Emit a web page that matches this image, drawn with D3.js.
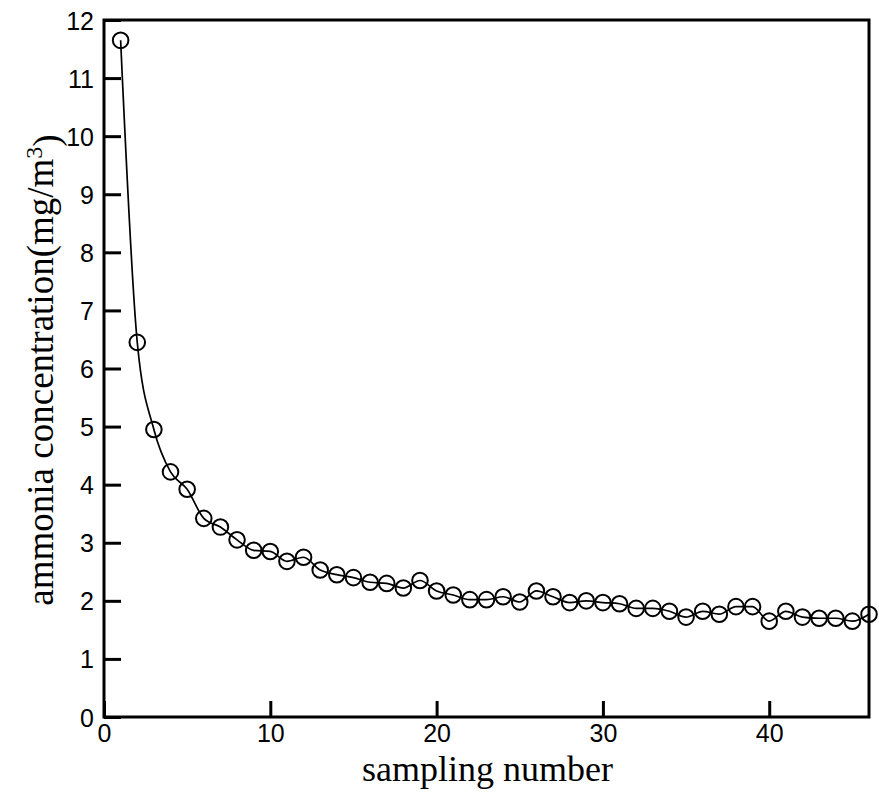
<!DOCTYPE html>
<html lang="en">
<head>
  <meta charset="utf-8" />
  <title>ammonia concentration</title>
  <script src="https://d3js.org/d3.v7.min.js"></script>
  <style>
    body { margin: 0; background: #fff; }
    .tick text { font-family: "Liberation Sans", Arial, sans-serif; font-size: 25px; fill: #000; }
    .title { font-family: "Liberation Serif", "Times New Roman", serif; font-size: 36px; fill: #000; }
  </style>
</head>
<body>
<svg id="chart" width="879" height="794"></svg>
<script>
// sampling number 1..46 and measured ammonia (mg/m3)
var samples = d3.range(1, 47);
var ammonia = [11.65, 6.45, 4.95, 4.22, 3.92, 3.42, 3.27, 3.05, 2.87, 2.85,
               2.68, 2.75, 2.53, 2.45, 2.40, 2.32, 2.30, 2.22, 2.35, 2.17,
               2.10, 2.02, 2.02, 2.07, 1.98, 2.17, 2.07, 1.97, 2.00, 1.97,
               1.95, 1.87, 1.87, 1.82, 1.72, 1.82, 1.77, 1.90, 1.90, 1.65,
               1.82, 1.72, 1.70, 1.70, 1.65, 1.77];
var xTicks = [0, 10, 20, 30, 40];
var yTicks = d3.range(0, 13);

var svg = d3.select("#chart");
var m = {left: 104, right: 869, top: 20, bottom: 717};

var x = d3.scaleLinear().domain([0, 46]).range([m.left, m.right]);
var y = d3.scaleLinear().domain([0, 12]).range([m.bottom, m.top]);

var data = samples.map(function(s, i) { return {x: s, y: ammonia[i]}; });

// frame
svg.append("rect")
  .attr("x", m.left).attr("y", m.top)
  .attr("width", m.right - m.left).attr("height", m.bottom - m.top)
  .attr("fill", "none").attr("stroke", "#000").attr("stroke-width", 3);

var xAxis = svg.append("g")
  .attr("transform", "translate(0," + m.bottom + ")")
  .call(d3.axisBottom(x).tickValues(xTicks).tickSize(-16).tickPadding(22));
var yAxis = svg.append("g")
  .attr("transform", "translate(" + m.left + ",0)")
  .call(d3.axisLeft(y).tickValues(yTicks).tickSize(-17).tickPadding(10));

[xAxis, yAxis].forEach(function(g) {
  g.select(".domain").remove();
  g.selectAll(".tick line").attr("stroke", "#000").attr("stroke-width", 3);
});
xAxis.selectAll(".tick text").attr("dy", "0.1em");
yAxis.selectAll(".tick text").attr("dy", "0.36em");

var line = d3.line()
  .x(function(d) { return x(d.x); })
  .y(function(d) { return y(d.y); })
  .curve(d3.curveMonotoneX);

svg.append("path")
  .datum(data)
  .attr("d", line)
  .attr("fill", "none")
  .attr("stroke", "#000")
  .attr("stroke-width", 1.7);

svg.append("g")
  .selectAll("circle")
  .data(data)
  .enter().append("circle")
  .attr("cx", function(d) { return x(d.x); })
  .attr("cy", function(d) { return y(d.y); })
  .attr("r", 7.8)
  .attr("fill", "none")
  .attr("stroke", "#000")
  .attr("stroke-width", 2);

svg.append("text")
  .attr("class", "title")
  .attr("x", (m.left + m.right) / 2 + 1)
  .attr("y", 781)
  .attr("text-anchor", "middle")
  .text("sampling number");

var yt = svg.append("text")
  .attr("class", "title")
  .attr("transform", "translate(53," + 370 + ") rotate(-90)")
  .attr("text-anchor", "middle")
  .style("font-size", "37px");
yt.append("tspan").text("ammonia concentration(mg/m");
yt.append("tspan").attr("dy", "-0.45em").attr("font-size", "24px").text("3");
yt.append("tspan").attr("dy", "0.45em").text(")");
</script>
</body>
</html>
